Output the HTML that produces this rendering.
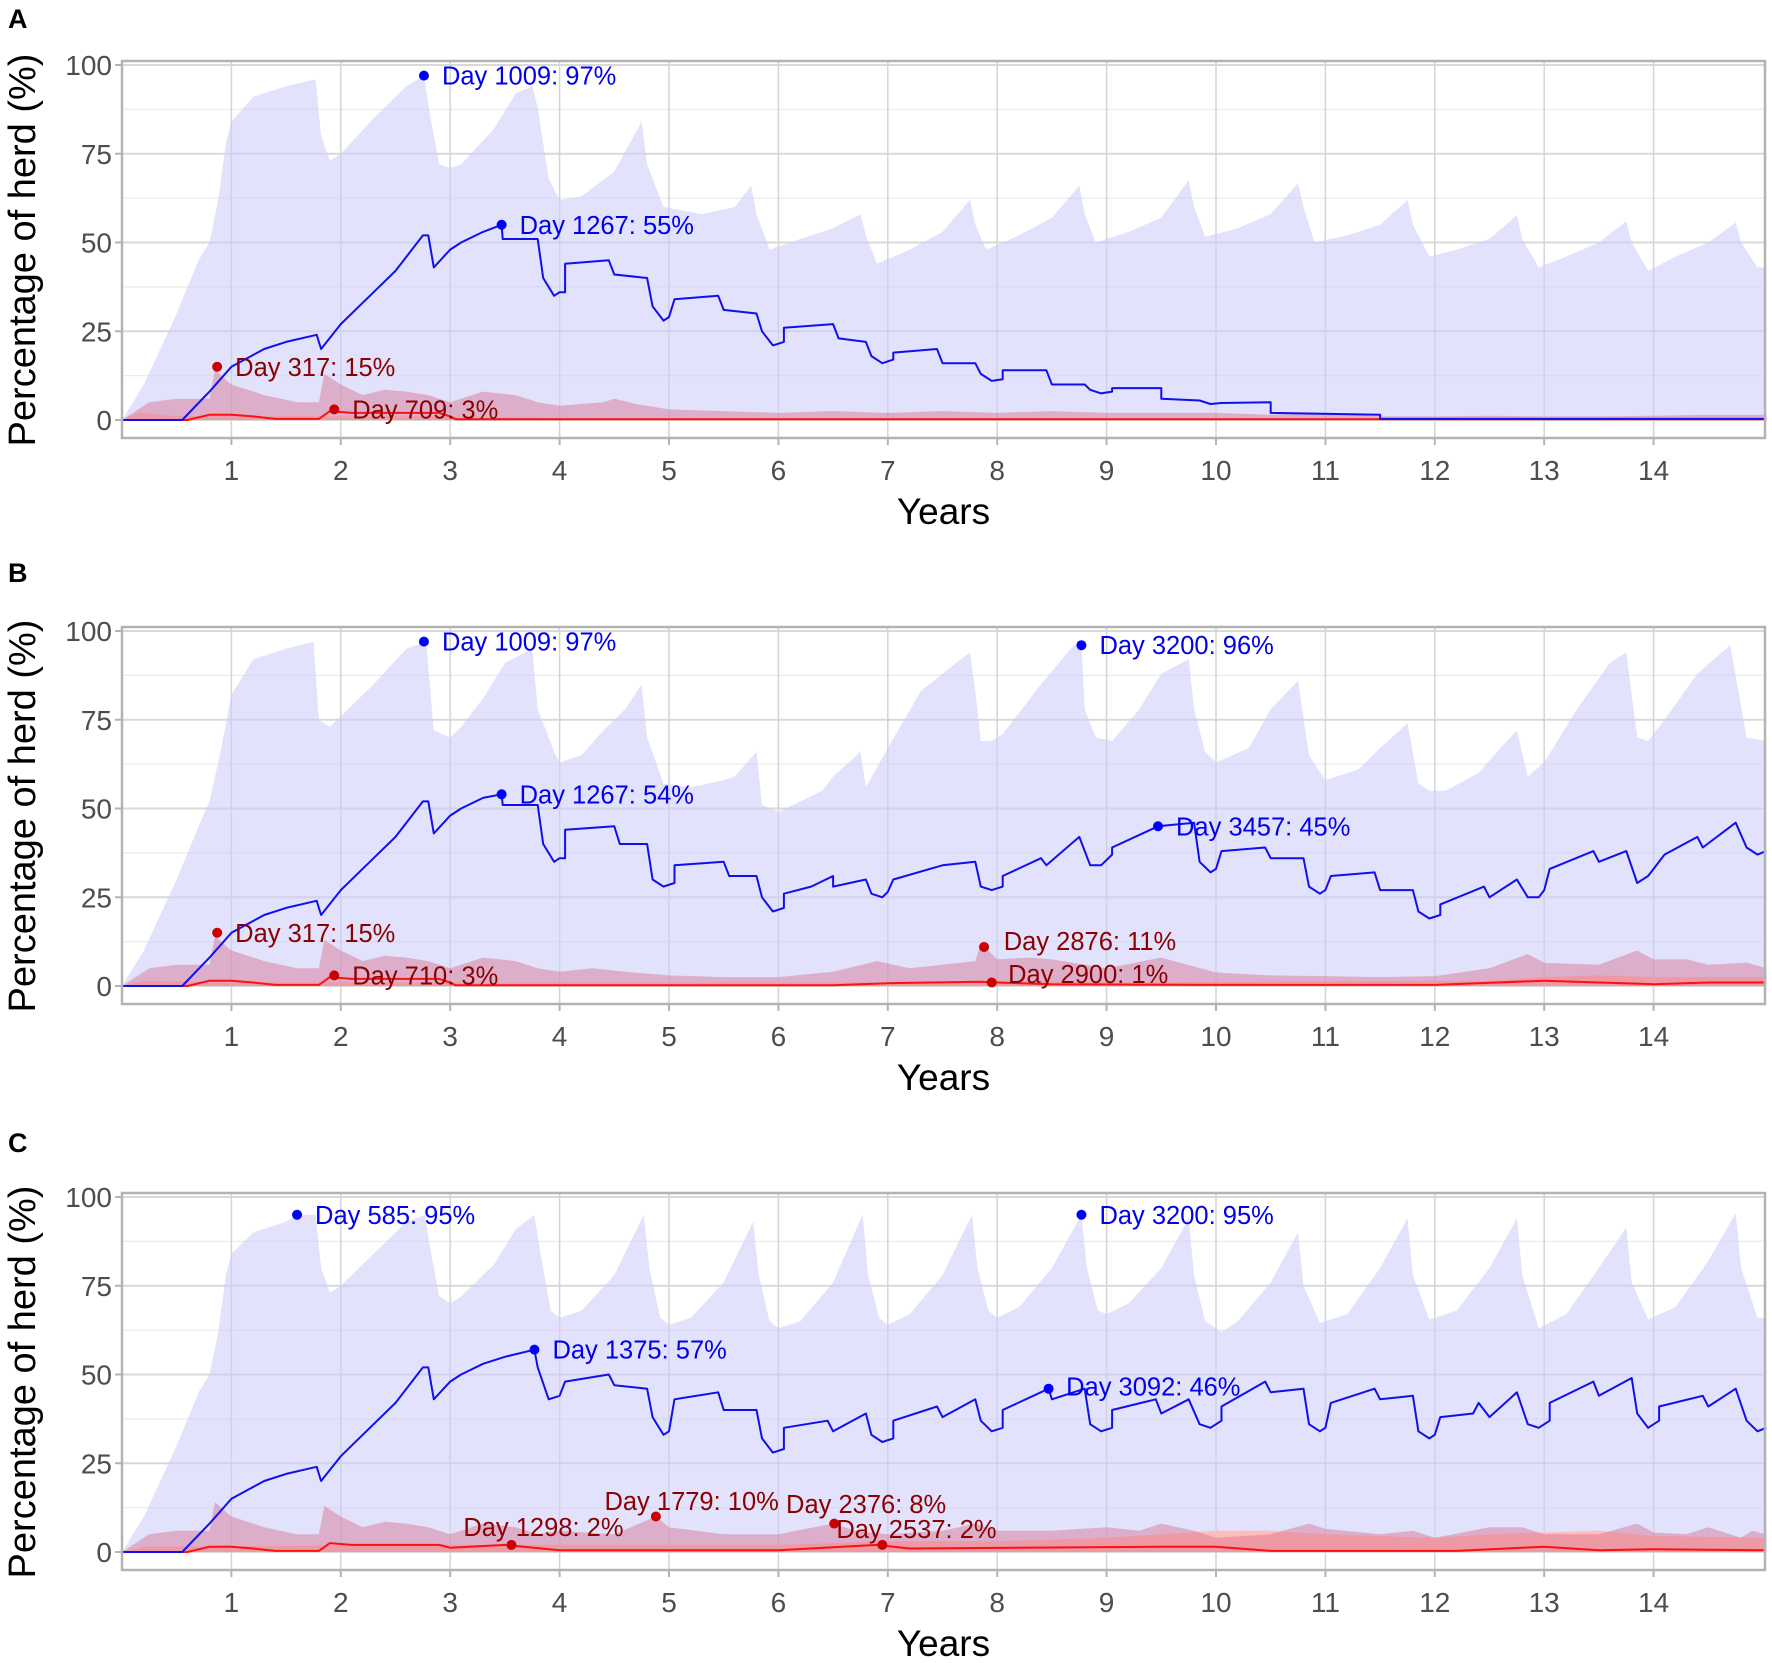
<!DOCTYPE html>
<html><head><meta charset="utf-8"><title>Herd simulation</title>
<style>
html,body{margin:0;padding:0;background:#fff;}
svg{display:block;font-family:"Liberation Sans",Arial,sans-serif;}
</style></head>
<body>
<svg id="fig" width="1772" height="1663" viewBox="0 0 1772 1663" xmlns="http://www.w3.org/2000/svg"></svg>
<script>
// ---------- DATA (years, percent) ----------
const xTicks = [1,2,3,4,5,6,7,8,9,10,11,12,13,14];
const yTicks = [0,25,50,75,100];
const panelLetters = ["A","B","C"];

const aUpper = [[0,0],[0.2,10],[0.5,30],[0.7,45],[0.8,50],[0.88,62],[0.95,78],[1.0,84],[1.2,91],[1.5,94],[1.77,96],[1.82,80],[1.9,73],[2.0,75],[2.3,85],[2.6,94],[2.76,97],[2.82,85],[2.9,72],[3.0,71],[3.1,72],[3.4,82],[3.6,92],[3.75,94],[3.8,88],[3.9,68],[4.0,62],[4.2,63],[4.5,70],[4.75,84],[4.8,72],[4.95,60],[5.3,58],[5.6,60],[5.75,66],[5.8,58],[5.92,48],[6.2,51],[6.5,54],[6.75,58],[6.8,52],[6.9,44],[7.2,48],[7.5,53],[7.75,62],[7.8,55],[7.9,48],[8.2,52],[8.5,57],[8.75,66],[8.8,58],[8.9,50],[9.2,53],[9.5,57],[9.75,67.6],[9.8,60],[9.9,51.6],[10.2,54],[10.5,58],[10.75,66.7],[10.8,60],[10.9,50],[11.2,52],[11.5,55],[11.75,62],[11.8,55],[11.95,46],[12.2,48],[12.5,51],[12.75,57.7],[12.8,51],[12.95,43],[13.2,46],[13.5,50],[13.75,56],[13.8,50],[13.95,42],[14.2,46],[14.5,50],[14.75,55.6],[14.8,50],[14.95,43],[15.03,43]];
const bUpper = [[0,0],[0.2,10],[0.5,30],[0.7,45],[0.8,52],[0.9,66],[1.0,82],[1.2,92],[1.5,95],[1.75,97],[1.8,75],[1.9,73],[2.0,76],[2.3,85],[2.6,95],[2.78,97],[2.85,72],[3.0,70],[3.1,73],[3.3,81],[3.5,91],[3.75,95],[3.8,78],[3.95,66],[4.0,63],[4.2,65],[4.4,72],[4.6,78],[4.75,85],[4.8,70],[4.95,57],[5.2,56],[5.5,58],[5.6,59],[5.8,66],[5.85,51],[6.0,49],[6.2,52],[6.4,55],[6.5,59],[6.75,66],[6.8,56],[7.0,67],[7.3,83],[7.5,88],[7.75,94],[7.8,83],[7.85,69],[7.95,69],[8.05,71],[8.4,85],[8.7,96],[8.77,97],[8.8,78],[8.9,70],[9.05,69],[9.3,78],[9.5,88],[9.75,92],[9.8,78],[9.9,66],[10.0,63],[10.3,67],[10.5,78],[10.75,86],[10.85,65],[11.0,58],[11.3,61],[11.5,67],[11.75,74],[11.85,57],[11.95,55],[12.1,55],[12.4,60],[12.6,67],[12.75,72],[12.85,59],[13.0,63],[13.3,78],[13.6,91],[13.75,94],[13.85,70],[13.95,69],[14.1,75],[14.4,88],[14.7,96],[14.85,70],[15.03,69]];
const cUpper = [[0,0],[0.2,10],[0.5,30],[0.7,45],[0.8,50],[0.88,62],[0.95,78],[1.0,84],[1.2,90],[1.5,93],[1.6,95],[1.77,95],[1.82,80],[1.9,73],[2.0,75],[2.3,84],[2.6,93],[2.77,95],[2.82,85],[2.9,72],[3.0,70],[3.1,72],[3.4,81],[3.6,91],[3.77,95],[3.82,85],[3.92,68],[4.0,66],[4.2,68],[4.5,78],[4.77,95],[4.82,80],[4.92,66],[5.0,64],[5.2,66],[5.5,76],[5.77,93],[5.82,78],[5.92,65],[6.0,63],[6.2,65],[6.5,76],[6.77,95],[6.82,78],[6.92,66],[7.0,64],[7.2,67],[7.5,78],[7.77,95],[7.82,80],[7.92,68],[8.0,66],[8.2,69],[8.5,80],[8.77,95],[8.82,80],[8.92,68],[9.0,67],[9.2,70],[9.5,80],[9.75,94],[9.8,78],[9.9,65],[10.05,62],[10.2,65],[10.5,76],[10.75,90],[10.8,75],[10.95,64.5],[11.2,67],[11.5,80],[11.75,94],[11.8,78],[11.95,65.5],[12.2,68],[12.5,80],[12.75,94],[12.8,78],[12.95,63],[13.2,67],[13.5,80],[13.75,91.5],[13.8,76],[13.95,65.5],[14.2,69],[14.5,82],[14.75,95.5],[14.8,80],[14.95,66],[15.03,66]];

const aPink = [[0,0],[0.1,2],[0.25,5],[0.5,6],[0.8,6],[0.85,14],[1.0,10],[1.3,7],[1.6,5],[1.8,5],[1.85,13],[2.0,10],[2.2,7],[2.4,8.5],[2.6,8],[2.8,7],[3.0,5],[3.3,8],[3.6,7],[3.8,5],[4.0,4],[4.2,4.5],[4.4,5],[4.5,6],[4.7,4.5],[5.0,3],[5.5,2.5],[6.0,2],[6.5,2.5],[7.0,2],[7.5,2.5],[8.0,2],[8.5,2.5],[9.0,2],[9.5,2],[10.0,2],[10.5,1.5],[11.0,2],[11.5,1],[12,1],[12.5,1.2],[13,1],[13.5,1],[14,1.2],[14.5,1.5],[15.03,1.5]];
const bPink = [[0,0],[0.1,2],[0.25,5],[0.5,6],[0.8,6],[0.85,14],[1.0,10],[1.3,7],[1.6,5],[1.8,5],[1.85,13],[2.0,10],[2.2,7],[2.4,8.5],[2.6,8],[2.8,7],[3.0,5],[3.3,8],[3.6,7],[3.8,5],[4.0,4],[4.3,5],[4.6,4],[5.0,3],[5.5,2.5],[6.0,2.5],[6.5,4],[6.9,7],[7.2,5],[7.5,6],[7.8,7],[7.85,12],[8.0,7.5],[8.3,8],[8.5,7.5],[9.0,5],[9.5,8],[10.0,3.8],[10.5,3],[11.0,2.8],[11.5,2.5],[12.0,2.8],[12.5,5],[12.85,9],[13.0,6.5],[13.5,6],[13.85,10],[14.0,7.5],[14.3,7.5],[14.5,6],[14.85,6.6],[15.03,5]];
const cPink = [[0,0],[0.1,2],[0.25,5],[0.5,6],[0.8,6],[0.85,14],[1.0,10],[1.3,7],[1.6,5],[1.8,5],[1.85,13],[2.0,10],[2.2,7],[2.4,8.5],[2.6,8],[2.8,7],[3.0,5],[3.3,8],[3.6,7],[3.8,5],[4.0,6],[4.5,5],[4.88,10],[5.0,7],[5.5,5],[6.0,5],[6.5,8],[6.7,6],[7.0,5],[7.5,6],[7.8,8],[8.0,6],[8.5,6],[9.0,7],[9.3,6],[9.5,8],[9.8,6],[10.0,4],[10.5,5],[10.85,8],[11.0,6.5],[11.5,5],[11.8,6],[12.0,4],[12.5,7],[12.8,7],[13.0,5],[13.5,5],[13.85,8],[14.0,5.5],[14.3,5],[14.5,7],[14.8,4],[14.9,6],[15.03,5]];

const aSalmon = [[0,0],[0.15,2],[0.5,1],[1,1],[3,1],[4,0.5],[15.03,0.5]];
const bSalmon = [[0,0],[0.2,1.5],[1,1],[7,1],[8,1.5],[9,1],[12.5,1.5],[13,2.5],[13.5,3],[14,2.5],[15.03,2.5]];
const cSalmon = [[0,0],[0.2,1.5],[3,2],[6,2],[7,3],[8,3],[9,4],[9.5,5],[10,6],[10.5,6],[11,5],[12,4],[12.5,5],[13,5.5],[13.5,6],[14,4.5],[15.03,4]];

const aRed = [[0,0],[0.6,0],[0.8,1.5],[1.0,1.5],[1.2,1],[1.4,0.3],[1.8,0.3],[1.9,2.5],[2.1,2],[2.5,2],[2.9,2],[3.0,1],[3.05,0.2],[15.03,0.2]];
const bRed = [[0,0],[0.6,0],[0.8,1.5],[1.0,1.5],[1.2,1],[1.4,0.3],[1.8,0.3],[1.9,2.5],[2.1,2],[2.5,2],[2.9,2],[3.0,1],[3.05,0.2],[6.5,0.2],[7.0,0.8],[7.85,1.2],[8.0,1],[8.5,0.5],[10,0.3],[12,0.3],[13,1.5],[13.5,1],[14,0.5],[14.5,1],[15.03,1]];
const cRed = [[0,0],[0.6,0],[0.8,1.5],[1.0,1.5],[1.2,1],[1.4,0.3],[1.8,0.3],[1.9,2.5],[2.1,2],[2.5,2],[2.9,2],[3.0,1.2],[3.5,2],[4.0,0.5],[6.0,0.5],[6.9,2],[7.2,1],[9.5,1.5],[10,1.5],[10.5,0.3],[12.2,0.3],[13,1.5],[13.5,0.5],[14,0.8],[15.03,0.5]];

const aBlue = [[0,0],[0.55,0],[0.8,8],[1.0,15],[1.3,20],[1.5,22],[1.78,24],[1.82,20],[2.0,27],[2.3,36],[2.5,42],[2.75,52],[2.8,52],[2.85,43],[3.0,48],[3.1,50],[3.3,53],[3.47,55],[3.48,51],[3.8,51],[3.85,40],[3.95,35],[4.0,36],[4.05,36],[4.05,44],[4.45,45],[4.5,41],[4.8,40],[4.85,32],[4.95,28],[5.0,29],[5.05,34],[5.45,35],[5.5,31],[5.8,30],[5.85,25],[5.95,21],[6.05,22],[6.05,26],[6.5,27],[6.55,23],[6.8,22],[6.85,18],[6.95,16],[7.05,17],[7.05,19],[7.45,20],[7.5,16],[7.8,16],[7.85,13],[7.95,11],[8.05,11.5],[8.05,14],[8.45,14],[8.5,10],[8.8,10],[8.85,8.5],[8.95,7.5],[9.05,8],[9.05,9],[9.5,9],[9.5,6],[9.85,5.5],[9.95,4.5],[10.05,4.8],[10.5,5],[10.5,2],[11.5,1.5],[11.5,0.3],[15.03,0.3]];
const bBlue = [[0,0],[0.55,0],[0.8,8],[1.0,15],[1.3,20],[1.5,22],[1.78,24],[1.82,20],[2.0,27],[2.3,36],[2.5,42],[2.75,52],[2.8,52],[2.85,43],[3.0,48],[3.1,50],[3.3,53],[3.47,54],[3.48,51],[3.8,51],[3.85,40],[3.95,35],[4.0,36],[4.05,36],[4.05,44],[4.5,45],[4.55,40],[4.8,40],[4.85,30],[4.95,28],[5.05,29],[5.05,34],[5.5,35],[5.55,31],[5.8,31],[5.85,25],[5.95,21],[6.05,22],[6.05,26],[6.3,28],[6.5,31],[6.5,28],[6.8,30],[6.85,26],[6.95,25],[7.0,26.5],[7.05,30],[7.5,34],[7.8,35],[7.85,28],[7.95,27],[8.05,28],[8.05,31],[8.4,36],[8.45,34],[8.75,42],[8.85,34],[8.95,34],[9.05,37],[9.05,39],[9.47,45],[9.8,46],[9.85,35],[9.95,32],[10.0,33],[10.05,38],[10.45,39],[10.5,36],[10.8,36],[10.85,28],[10.95,26],[11.0,27],[11.05,31],[11.45,32],[11.5,27],[11.8,27],[11.85,21],[11.95,19],[12.05,20],[12.05,23],[12.45,28],[12.5,25],[12.75,30],[12.85,25],[12.95,25],[13.0,27],[13.05,33],[13.45,38],[13.5,35],[13.75,38],[13.85,29],[13.95,31],[14.1,37],[14.4,42],[14.45,39],[14.75,46],[14.85,39],[14.95,37],[15.03,38]];
const cBlue = [[0,0],[0.55,0],[0.8,8],[1.0,15],[1.3,20],[1.5,22],[1.78,24],[1.82,20],[2.0,27],[2.3,36],[2.5,42],[2.75,52],[2.8,52],[2.85,43],[3.0,48],[3.1,50],[3.3,53],[3.5,55],[3.77,57],[3.8,52],[3.9,43],[4.0,44],[4.05,48],[4.45,50],[4.5,47],[4.8,46],[4.85,38],[4.95,33],[5.0,34],[5.05,43],[5.45,45],[5.5,40],[5.8,40],[5.85,32],[5.95,28],[6.05,29],[6.05,35],[6.45,37],[6.5,34],[6.8,39],[6.85,33],[6.95,31],[7.05,32],[7.05,37],[7.45,41],[7.5,38],[7.8,43],[7.85,37],[7.95,34],[8.05,35],[8.05,40],[8.47,46],[8.5,43],[8.8,46],[8.85,36],[8.95,34],[9.05,35],[9.05,40],[9.45,43],[9.5,39],[9.75,43],[9.85,36],[9.95,35],[10.05,37],[10.05,41],[10.45,48],[10.5,45],[10.8,46],[10.85,36],[10.95,34],[11.0,35],[11.05,42],[11.45,46],[11.5,43],[11.8,44],[11.85,34],[11.95,32],[12.0,33],[12.05,38],[12.35,39],[12.4,42],[12.5,38],[12.75,45],[12.85,36],[12.95,35],[13.05,37],[13.05,42],[13.45,48],[13.5,44],[13.8,49],[13.85,39],[13.95,35],[14.05,37],[14.05,41],[14.45,44],[14.5,41],[14.75,46],[14.85,37],[14.95,34],[15.03,35]];

// annotations: [year, value, type, text, labelYear, labelValue]
const aNotes = [[2.76,97,"b","Day 1009: 97%",null,null],[3.47,55,"b","Day 1267: 55%",null,null],[0.87,15,"r","Day 317: 15%",null,null],[1.94,3,"r","Day 709: 3%",null,null]];
const bNotes = [[2.76,97,"b","Day 1009: 97%",null,null],[8.77,96,"b","Day 3200: 96%",null,null],[3.47,54,"b","Day 1267: 54%",null,null],[9.47,45,"b","Day 3457: 45%",null,null],[0.87,15,"r","Day 317: 15%",null,null],[1.94,3,"r","Day 710: 3%",null,null],[7.88,11,"r","Day 2876: 11%",8.06,12.7],[7.95,1,"r","Day 2900: 1%",8.1,3.4]];
const cNotes = [[1.6,95,"b","Day 585: 95%",null,null],[8.77,95,"b","Day 3200: 95%",null,null],[3.77,57,"b","Day 1375: 57%",null,null],[8.47,46,"b","Day 3092: 46%",8.63,46.6],[3.56,2,"r","Day 1298: 2%",3.12,7],[4.88,10,"r","Day 1779: 10%",4.41,14.4],[6.51,8,"r","Day 2376: 8%",6.07,13.5],[6.95,2,"r","Day 2537: 2%",6.53,6.5]];

const panels = [
 {upper:aUpper,pink:aPink,salmon:aSalmon,red:aRed,blue:aBlue,notes:aNotes,letterY:28},
 {upper:bUpper,pink:bPink,salmon:bSalmon,red:bRed,blue:bBlue,notes:bNotes,letterY:582},
 {upper:cUpper,pink:cPink,salmon:cSalmon,red:cRed,blue:cBlue,notes:cNotes,letterY:1152}
];

// ---------- DRAWING ----------
const NS = "http://www.w3.org/2000/svg";
const svg = document.getElementById("fig");
const L = 122, R = 1765, PX = 109.4;
function mk(tag, attrs, parent){const e=document.createElementNS(NS,tag);for(const k in attrs)e.setAttribute(k,attrs[k]);parent.appendChild(e);return e;}

panels.forEach((p, i) => {
  const off = i*566;
  const top = 61+off, bot = 438+off, y0 = 420+off;
  const sx = v => L + v*PX;
  const sy = v => y0 - v*3.55;
  const g = mk("g", {}, svg);
  
  

  const letter = mk("text", {x:8, y:p.letterY, "font-size":27, "font-weight":"bold", fill:"#000"}, g);
  letter.textContent = panelLetters[i];
  
  

  const minor = [12.5,37.5,62.5,87.5];
  minor.forEach(v => { const ln = mk("line",{x1:L,x2:R,y1:sy(v),y2:sy(v),stroke:"#ebebeb","stroke-width":1.2},g);
      });
  yTicks.forEach(v => { const ln = mk("line",{x1:L,x2:R,y1:sy(v),y2:sy(v),stroke:"#d9d9d9","stroke-width":2},g);
      });
  xTicks.forEach(v => { const ln = mk("line",{x1:sx(v),x2:sx(v),y1:top,y2:bot,stroke:"#d4d4d4","stroke-width":1.5},g);
      });

  function area(arr, fill, name){
    let d = "M"+sx(arr[0][0])+","+sy(0);
    arr.forEach(q => d += " L"+sx(q[0]).toFixed(1)+","+sy(q[1]).toFixed(1));
    d += " L"+sx(arr[arr.length-1][0])+","+sy(0)+" Z";
    const e = mk("path",{d:d,fill:fill},g);
    
    
  }
  function line(arr, color, name){
    const d = arr.map((q,j)=>(j?"L":"M")+sx(q[0]).toFixed(1)+","+sy(q[1]).toFixed(1)).join(" ");
    const e = mk("path",{d:d,fill:"none",stroke:color,"stroke-width":2,"stroke-linejoin":"round"},g);
    
    
  }
  area(p.upper, "rgba(205,205,250,0.58)", "blue-band");
  area(p.salmon, "#ffbcbc", "salmon-band");
  area(p.pink, "rgba(215,110,140,0.45)", "pink-band");
  line(p.red, "#ff1010", "red-line");
  line(p.blue, "#1010ee", "blue-line");

  const b = mk("rect",{x:L,y:top,width:R-L,height:bot-top,fill:"none",stroke:"#b3b3b3","stroke-width":2.5},g);
   

  xTicks.forEach(v => {
    const t = mk("line",{x1:sx(v),x2:sx(v),y1:bot,y2:bot+7,stroke:"#b3b3b3","stroke-width":2},g);
     
    const tx = mk("text",{x:sx(v),y:bot+42,"font-size":28,"text-anchor":"middle",fill:"#4d4d4d"},g);
    tx.textContent = v;
     
  });
  yTicks.forEach(v => {
    const t = mk("line",{x1:L-7,x2:L,y1:sy(v),y2:sy(v),stroke:"#b3b3b3","stroke-width":2},g);
     
    const tx = mk("text",{x:L-10,y:sy(v)+10,"font-size":28,"text-anchor":"end",fill:"#4d4d4d"},g);
    tx.textContent = v;
     
  });
  const xt = mk("text",{x:(L+R)/2,y:bot+86,"font-size":37,"text-anchor":"middle",fill:"#000"},g);
  xt.textContent = "Years";
   
  const yt = mk("text",{x:0,y:0,"font-size":38,"text-anchor":"middle",fill:"#000",transform:"translate(35,"+(250+off)+") rotate(-90)"},g);
  yt.textContent = "Percentage of herd (%)";
   

  p.notes.forEach(n => {
    const col = n[2]==="b" ? "#0000ff" : "#cc0000";
    const tcol = n[2]==="b" ? "#0000ee" : "#8b0000";
    const c = mk("circle",{cx:sx(n[0]),cy:sy(n[1]),r:5,fill:col},g);
     
    const lx = n[4]===null ? sx(n[0])+18 : sx(n[4]);
    const ly = n[5]===null ? sy(n[1]) : sy(n[5]);
    const t = mk("text",{x:lx,y:ly+9,"font-size":25.5,fill:tcol},g);
    t.textContent = n[3];
     
  });
});
</script>
</body></html>
